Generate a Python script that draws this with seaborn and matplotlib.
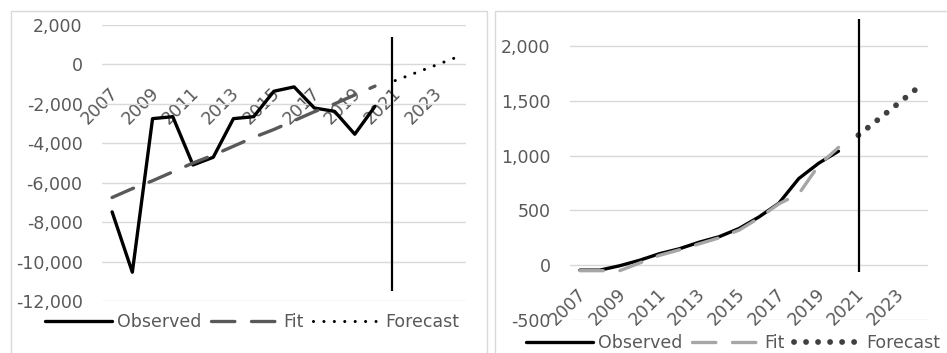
import matplotlib
matplotlib.use("Agg")
import numpy as np
import pandas as pd
import matplotlib.pyplot as plt
import seaborn as sns
from matplotlib.lines import Line2D
from matplotlib.patches import Rectangle
import matplotlib.ticker as mticker
import matplotlib.transforms as mtransforms

# Categories
years = [2007, 2008, 2009, 2010, 2011, 2012, 2013, 2014, 2015,
         2016, 2017, 2018, 2019, 2020, 2021, 2022, 2023, 2024]
obs_years = years[:14]
fc_years = years[14:]
tick_years = [2007, 2009, 2011, 2013, 2015, 2017, 2019, 2021, 2023]

# Left panel values
left_observed = [-7480, -10540, -2750, -2650, -5100, -4710, -2750, -2650,
                 -1360, -1140, -2210, -2380, -3540, -2125]
left_fit = [-6750, -6300, -5900, -5450, -5000, -4600, -4150, -3700,
            -3300, -2850, -2400, -2000, -1550, -1100]
left_forecast = [-820, -430, -40, 350]
left_yticks = [2000, 0, -2000, -4000, -6000, -8000, -10000, -12000]

# Right panel values
right_observed = [-45, -45, -5, 45, 105, 150, 210, 260, 335, 440, 565,
                  790, 930, 1040]
right_fit = [-50, -50, -50, 20, 90, 140, 195, 250, 320, 430, 560, 650,
             910, 1075]
right_forecast = [1186, 1330, 1475, 1621]
right_yticks = [-500, 0, 500, 1000, 1500, 2000]

sns.set_theme(style="white")
plt.rcParams["font.family"] = ["DejaVu Sans"]
TXT = "#595959"
GRID = "#d9d9d9"
FS = 12.5

fig = plt.figure(figsize=(9.47, 3.53), dpi=100)

# panel frames
fig.add_artist(Rectangle((11 / 947, -0.1), 476 / 947, 342 / 353 + 0.1,
                         transform=fig.transFigure, fill=False, ec=GRID, lw=1))
fig.add_artist(Rectangle((495 / 947, -0.1), 0.6, 342 / 353 + 0.1,
                         transform=fig.transFigure, fill=False, ec=GRID, lw=1))

ax1 = fig.add_axes([102 / 947, 52 / 353, 364 / 947, 276 / 353])
ax2 = fig.add_axes([570 / 947, 33 / 353, 358 / 947, 301.4 / 353])


def idx(ys):
    return [years.index(y) for y in ys]


def draw(ax, observed, fit, forecast, fit_color, fc_color, fc_lw, fc_gap,
         vline_x, vline_range, ylim, yticks, legend_xy):
    sns.lineplot(x=idx(obs_years), y=observed, ax=ax, color="black",
                 linewidth=2.4, zorder=4)
    sns.lineplot(x=idx(obs_years), y=fit, ax=ax, color=fit_color,
                 linewidth=2.4, linestyle=(0, (7, 5)),
                 dash_capstyle="round", zorder=5)
    sns.lineplot(x=idx(fc_years), y=forecast, ax=ax, color=fc_color,
                 linewidth=fc_lw, linestyle=(0, (0.01, fc_gap)),
                 dash_capstyle="round", zorder=5)
    ax.vlines(vline_x, vline_range[0], vline_range[1],
              color="black", linewidth=1.6, zorder=6)

    ax.set_xlim(-0.5, len(years) - 0.5)
    ax.set_ylim(*ylim)
    ax.set_yticks(yticks)
    ax.yaxis.set_major_formatter(mticker.FuncFormatter(lambda v, p: f"{v:,.0f}"))
    ax.grid(axis="y", color=GRID, linewidth=1)
    ax.set_axisbelow(True)
    for s in ax.spines.values():
        s.set_visible(False)
    ax.spines["bottom"].set_position(("data", 0))
    ax.tick_params(axis="both", length=0, labelsize=FS, colors=TXT)
    ax.tick_params(axis="x", pad=14)
    ax.tick_params(axis="y", pad=14)
    ax.set_xticks(idx(tick_years))
    ax.set_xticklabels([str(y) for y in tick_years])
    shift = mtransforms.ScaledTranslation(-3 / 100, 0, fig.dpi_scale_trans)
    for lbl in ax.get_xticklabels():
        lbl.set_rotation(45)
        lbl.set_horizontalalignment("right")
        lbl.set_verticalalignment("top")
        lbl.set_rotation_mode("anchor")
        lbl.set_transform(lbl.get_transform() + shift)
    ax.set_xlabel("")
    ax.set_ylabel("")

    handles = [
        Line2D([], [], color="black", linewidth=2.4),
        Line2D([], [], color=fit_color, linewidth=2.4, linestyle=(0, (7, 5)),
               dash_capstyle="round"),
        Line2D([], [], color=fc_color, linewidth=fc_lw,
               linestyle=(0, (0.01, fc_gap)), dash_capstyle="round"),
    ]
    fig.legend(handles, ["Observed", "Fit", "Forecast"], loc="center",
               bbox_to_anchor=legend_xy, ncol=3, frameon=False,
               fontsize=FS, labelcolor=TXT, handlelength=3.9,
               handletextpad=0.3, columnspacing=0.5, borderpad=0)


draw(ax1, left_observed, left_fit, left_forecast, "#595959", "black", 2.2,
     3.4, 13.85, (-11500, 1400), (-12000, 2000), left_yticks,
     (252 / 947, 31 / 353))
draw(ax2, right_observed, right_fit, right_forecast, "#a6a6a6", "#404040",
     4.2, 2.05, 14.05, (-60, 2250), (-500, 2250), right_yticks,
     (733 / 947, 10 / 353))

fig.savefig("out.png", dpi=100)
